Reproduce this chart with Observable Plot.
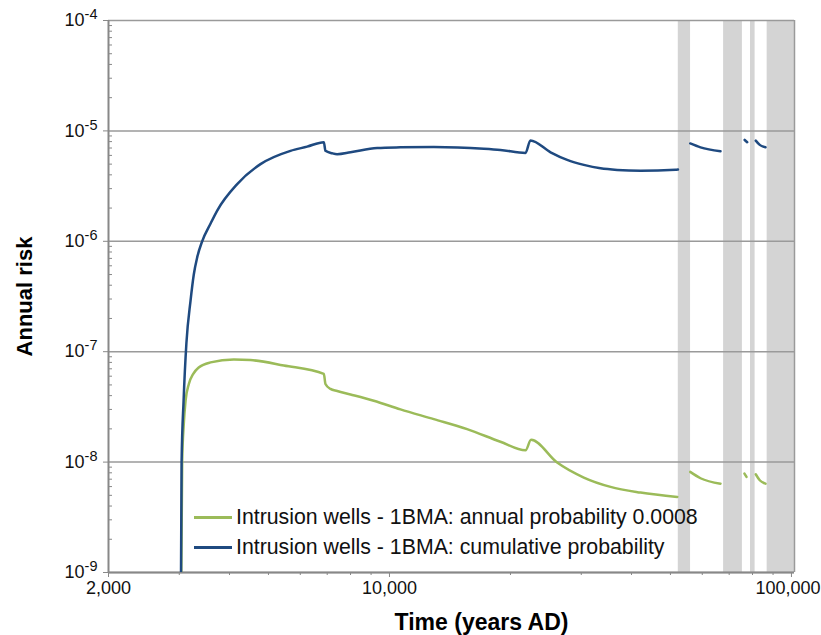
<!DOCTYPE html>
<html><head><meta charset="utf-8">
<script src="https://cdn.jsdelivr.net/npm/d3@7"></script>
<script src="https://cdn.jsdelivr.net/npm/@observablehq/plot@0.6"></script>
<style>
body{margin:0;background:#fff;}
#wrap{position:relative;width:821px;height:635px;font-family:"Liberation Sans",Arial,sans-serif;}
.legend{position:absolute;left:194px;top:502px;font-size:21.3px;color:#111;}
.row{display:flex;align-items:center;height:30px;white-space:nowrap;}
.sw{width:38px;height:3px;margin-right:4px;}
</style></head><body><div id="wrap"></div>
<script>
// ---- data ----
const xDomain = [2000, 101760];
const yDomain = [1e-9, 1e-4];
const xMajorTicks = [2000, 10000, 100000];
const xMinorTicks = [3000, 4000, 5000, 6000, 7000, 8000, 9000, 20000, 30000, 40000, 50000, 60000, 70000, 80000, 90000];
const yMajorTicks = [1e-9, 1e-8, 1e-7, 1e-6, 1e-5, 1e-4];
const yMinorTicks = [2e-9,3e-9,4e-9,5e-9,6e-9,7e-9,8e-9,9e-9,
  2e-8,3e-8,4e-8,5e-8,6e-8,7e-8,8e-8,9e-8,
  2e-7,3e-7,4e-7,5e-7,6e-7,7e-7,8e-7,9e-7,
  2e-6,3e-6,4e-6,5e-6,6e-6,7e-6,8e-6,9e-6,
  2e-5,3e-5,4e-5,5e-5,6e-5,7e-5,8e-5,9e-5];
const bandStart = [52300, 67800, 79100, 87000];
const bandEnd   = [56100, 75500, 81200, 101760];

const seriesNames = ["Intrusion wells - 1BMA: annual probability 0.0008", "Intrusion wells - 1BMA: cumulative probability"];
const seriesColors = ["#9bbb59", "#1f4a80"];

const annYears = [3020, 3050, 3078, 3110, 3169, 3250, 3354, 3589, 4100, 4510, 5460, 6866, 6930, 7130, 7412, 8000, 9140, 10650, 12890, 15600, 18880, 21800, 22500, 26130, 30440, 35480, 42120, 52000,
  null, 56000, 59400, 66600,
  null, 76400, 77300,
  null, 81500, 83400, 86200];
const annRisk = [1e-10, 1e-8, 2.2e-8, 3.6e-8, 5.1e-8, 6.3e-8, 7.2e-8, 8.0e-8, 8.5e-8, 8.4e-8, 7.5e-8, 6.3e-8, 5.1e-8, 4.6e-8, 4.4e-8, 4.1e-8, 3.6e-8, 3.0e-8, 2.45e-8, 1.99e-8, 1.53e-8, 1.28e-8, 1.59e-8, 9.9e-9, 7.24e-9, 5.96e-9, 5.3e-9, 4.84e-9,
  null, 8.15e-9, 7.14e-9, 6.38e-9,
  null, 7.87e-9, 7.34e-9,
  null, 7.76e-9, 6.85e-9, 6.38e-9];

const cumYears = [3020, 3040, 3075, 3125, 3200, 3260, 3324, 3420, 3589, 3728, 4180, 4777, 5672, 6240, 6866, 6930, 7200, 7412, 8000, 9320, 10650, 12890, 17170, 18880, 21800, 22420, 25160, 27670, 30440, 33500, 36850, 42120, 51470, 52200,
  null, 56000, 59400, 66600,
  null, 76500, 77600,
  null, 81500, 83400, 86200];
const cumRisk = [1e-10, 1e-8, 3.6e-8, 1.2e-7, 2.9e-7, 5e-7, 7.15e-7, 1.0e-6, 1.45e-6, 1.9e-6, 3.3e-6, 5.0e-6, 6.6e-6, 7.2e-6, 7.9e-6, 6.6e-6, 6.27e-6, 6.15e-6, 6.4e-6, 7.0e-6, 7.1e-6, 7.15e-6, 6.9e-6, 6.73e-6, 6.32e-6, 8.2e-6, 6.4e-6, 5.46e-6, 4.92e-6, 4.58e-6, 4.43e-6, 4.36e-6, 4.44e-6, 4.46e-6,
  null, 7.7e-6, 7.1e-6, 6.53e-6,
  null, 8.28e-6, 7.9e-6,
  null, 8.17e-6, 7.47e-6, 7.1e-6];

const xTitle = "Time (years AD)";
const yTitle = "Annual risk";

// ---- tables ----
const bands = bandStart.map((s, i) => ({start: s, end: bandEnd[i]}));
const annual = annYears.map((x, i) => ({x, y: annRisk[i]}));
const cumulative = cumYears.map((x, i) => ({x, y: cumRisk[i]}));

const font = "'Liberation Sans', Arial, sans-serif";
const chart = Plot.plot({
  width: 821, height: 635,
  marginLeft: 108, marginRight: 27, marginTop: 20, marginBottom: 63,
  style: {fontFamily: font, background: "#fff", color: "#111"},
  x: {type: "log", domain: xDomain},
  y: {type: "log", domain: yDomain},
  marks: [
    Plot.rect(bands, {x1: "start", x2: "end", y1: () => yDomain[0], y2: () => yDomain[1], fill: "#d4d4d4"}),
    Plot.ruleY(yMajorTicks, {stroke: "#9a9a9a", strokeWidth: 1.5}),
    Plot.ruleX([xDomain[1]], {stroke: "#9a9a9a", strokeWidth: 1.5}),
    Plot.axisY({ticks: yMinorTicks, tickSize: -4, tickFormat: () => "", label: null, stroke: "#888"}),
    Plot.axisY({ticks: yMajorTicks, tickSize: 5, tickPadding: 6, tickFormat: d => String(Math.round(Math.log10(d))), fontSize: 18, label: null, stroke: "#888"}),
    Plot.axisX({ticks: xMinorTicks, tickSize: 3, tickFormat: () => "", label: null, stroke: "#888"}),
    Plot.axisX({ticks: xMajorTicks, tickSize: 5, tickPadding: 4, tickFormat: d3.format(","), fontSize: 18, label: null, stroke: "#888"}),
    Plot.ruleX([xDomain[0]], {stroke: "#888", strokeWidth: 2}),
    Plot.ruleY([yDomain[0]], {stroke: "#888", strokeWidth: 2}),
    Plot.line(annual, {x: "x", y: "y", stroke: seriesColors[0], strokeWidth: 2.5, curve: "monotone-x", clip: true}),
    Plot.line(cumulative, {x: "x", y: "y", stroke: seriesColors[1], strokeWidth: 2.5, curve: "monotone-x", clip: true}),
    Plot.text([yTitle], {text: d => d, frameAnchor: "left", textAnchor: "middle", dx: -84, rotate: -90, fontSize: 22, fontWeight: "bold", fill: "#000"}),
    Plot.text([xTitle], {text: d => d, frameAnchor: "bottom", textAnchor: "middle", dy: 57, dx: 30, fontSize: 23, fontWeight: "bold", fill: "#000"})
  ]
});

// superscript exponents on y tick labels
d3.select(chart).selectAll('g[aria-label="y-axis tick label"] text').each(function() {
  const t = this.textContent;
  if (!t) return;
  const s = d3.select(this);
  s.text(null);
  s.append("tspan").text("10");
  s.append("tspan").attr("dy", "-7").attr("font-size", "14.5").text(t);
});
// keep the last x label inside the picture, as in the reference
d3.select(chart).selectAll('g[aria-label="x-axis tick label"] text').each(function() {
  if (this.textContent === "100,000") d3.select(this).attr("text-anchor", "end").attr("dx", 29);
});

const wrap = document.getElementById("wrap");
wrap.appendChild(chart);

const legend = document.createElement("div");
legend.className = "legend";
seriesNames.forEach((name, i) => {
  const row = document.createElement("div");
  row.className = "row";
  const sw = document.createElement("div");
  sw.className = "sw";
  sw.style.background = seriesColors[i];
  const tx = document.createElement("span");
  tx.textContent = name;
  row.appendChild(sw); row.appendChild(tx);
  legend.appendChild(row);
});
wrap.appendChild(legend);
</script></body></html>
